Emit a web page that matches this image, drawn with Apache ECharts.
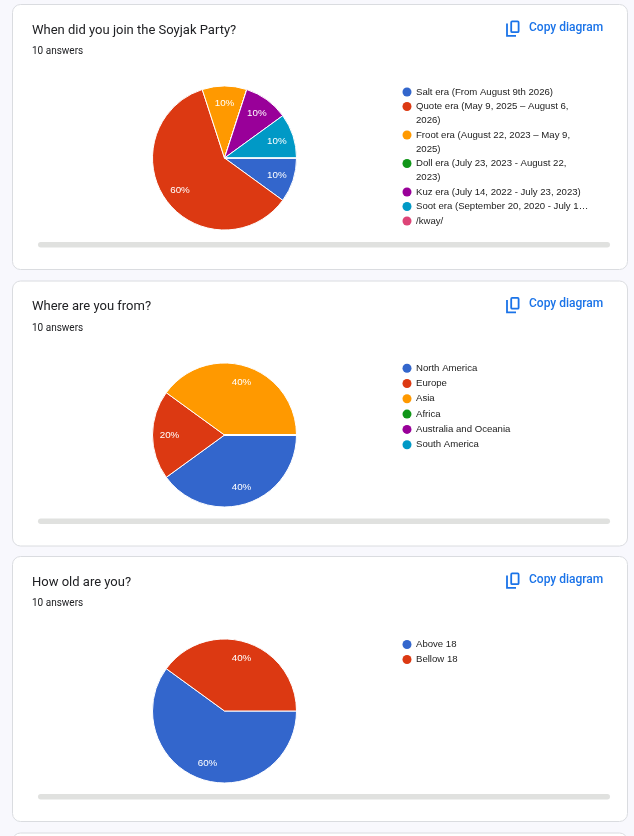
<!DOCTYPE html>
<html>
<head>
<meta charset="utf-8">
<script src="https://cdn.jsdelivr.net/npm/echarts@6/dist/echarts.min.js"></script>
<style>
html,body{margin:0;padding:0;background:#f8f8fd;}
#c{width:634px;height:836px;}
</style>
</head>
<body>
<div id="c"></div>
<script>
// ---------- data ----------
const questions = ['When did you join the Soyjak Party?', 'Where are you from?', 'How old are you?'];
const answerLabels = ['10 answers', '10 answers', '10 answers'];
const copyLabel = 'Copy diagram';

const joinCategories = [
  'Salt era (From August 9th 2026)',
  'Quote era (May 9, 2025 – August 6, 2026)',
  'Froot era (August 22, 2023 – May 9, 2025)',
  'Doll era (July 23, 2023 - August 22, 2023)',
  'Kuz era (July 14, 2022 - July 23, 2023)',
  'Soot era (September 20, 2020 - July 14, 2022)',
  '/kway/'
];
const joinValues = [1, 6, 1, 0, 1, 1, 0];
const joinLegendMaxLines = [2, 2, 2, 2, 2, 1, 2];

const fromCategories = ['North America', 'Europe', 'Asia', 'Africa', 'Australia and Oceania', 'South America'];
const fromValues = [4, 2, 4, 0, 0, 0];

const ageCategories = ['Above 18', 'Bellow 18'];
const ageValues = [6, 4];

const palette = ['#3366cc', '#dc3912', '#ff9900', '#109618', '#990099', '#0099c6', '#dd4477'];

// ---------- layout ----------
const cardTops = [4, 280.5, 556];
const LEG_FONT = 9.6;
const LEG_LINE = 14;
const LEG_MAXW = 174;

const measureCtx = document.createElement('canvas').getContext('2d');
measureCtx.font = LEG_FONT + 'px "Liberation Sans"';
function mw(s) { return measureCtx.measureText(s).width; }
function wrapText(text, maxW, maxLines) {
  const words = text.split(' ');
  const lines = [];
  let cur = '';
  for (const w of words) {
    const t = cur ? cur + ' ' + w : w;
    if (!cur || mw(t) <= maxW) cur = t;
    else { lines.push(cur); cur = w; }
  }
  if (cur) lines.push(cur);
  if (lines.length > maxLines) {
    const keep = lines.slice(0, maxLines - 1);
    let rest = lines.slice(maxLines - 1).join(' ');
    while (rest.length > 1 && mw(rest + '…') > maxW) rest = rest.slice(0, -1);
    keep.push(rest + '…');
    return keep;
  }
  return lines;
}

function buildLegend(cats, maxLines, top, gap) {
  const rich = { t: {}, g: { width: 4.5 }, s: { width: 9 } };
  cats.forEach((n, i) => {
    rich['d' + i] = { width: 9, height: 9, borderRadius: 4.5, backgroundColor: palette[i] };
  });
  const wrapped = {};
  cats.forEach((n, i) => {
    const lines = wrapText(n, LEG_MAXW, maxLines ? maxLines[i] : 2);
    wrapped[n] = lines.map((l, k) => (k === 0 ? '{d' + i + '|}' : '{s|}') + '{g|}{t|' + l + '}').join('\n');
  });
  return {
    orient: 'vertical', left: 397.5, top: top, padding: 0,
    itemWidth: 0, itemHeight: 0, itemGap: gap, icon: 'none',
    selectedMode: false,
    data: cats.map(n => ({ name: n })),
    formatter: n => wrapped[n],
    textStyle: {
      fontFamily: '"Liberation Sans", Arial, sans-serif', fontSize: LEG_FONT, color: '#222222',
      lineHeight: LEG_LINE, rich: rich
    }
  };
}

function buildPie(cats, vals, cy) {
  const data = cats.map((n, i) => ({ name: n, value: vals[i], itemStyle: { color: palette[i] } }));
  const labelData = cats.map((n, i) => ({ name: n, value: vals[i] }));
  return [
    {
      type: 'pie', center: [224.5, cy], radius: [0, 72], startAngle: 0, clockwise: true,
      data: data, label: { show: false }, labelLine: { show: false },
      itemStyle: { borderColor: '#ffffff', borderWidth: 1 },
      emphasis: { disabled: true }, animation: false, z: 2
    },
    {
      type: 'pie', center: [224.5, cy], radius: [32, 72], startAngle: 0, clockwise: true,
      data: labelData, silent: true, animation: false, z: 3,
      itemStyle: { color: 'rgba(0,0,0,0)', borderWidth: 0 },
      labelLine: { show: false }, emphasis: { disabled: true },
      label: {
        show: true, position: 'inside', color: '#ffffff', fontSize: 9.8,
        fontFamily: '"Liberation Sans", Arial, sans-serif', textBorderWidth: 0,
        formatter: p => (p.value ? Math.round(p.percent) + '%' : '')
      }
    }
  ];
}

// ---------- graphics (cards) ----------
const graphics = [];
function addCard(t, h) {
  graphics.push({ type: 'rect', z: 0, shape: { x: 12.5, y: t + 0.5, width: 615, height: h, r: 8 },
    style: { fill: '#ffffff', stroke: '#dadce0', lineWidth: 1 } });
}
cardTops.forEach((t, i) => {
  addCard(t, 265);
  graphics.push({ type: 'text', z: 1, x: 32, y: t + 26.3,
    style: { text: questions[i], fontSize: 13, fontFamily: 'Roboto', fill: '#202124', verticalAlign: 'middle' } });
  graphics.push({ type: 'text', z: 1, x: 32, y: t + 47.8,
    style: { text: answerLabels[i], fontSize: 10, fontFamily: 'Roboto', fill: '#202124', verticalAlign: 'middle' } });
  graphics.push({ type: 'text', z: 1, x: 529, y: t + 23.8,
    style: { text: copyLabel, fontSize: 12, fontWeight: 500, fontFamily: 'Roboto', fill: '#1a73e8', verticalAlign: 'middle' } });
  graphics.push({ type: 'rect', z: 1, shape: { x: 511.2, y: t + 17.4, width: 7.4, height: 10.8, r: 1 },
    style: { fill: 'none', stroke: '#1a73e8', lineWidth: 1.8 } });
  graphics.push({ type: 'polyline', z: 1, shape: { points: [[507, t + 19.4], [507, t + 31.8], [516, t + 31.8]] },
    style: { fill: 'none', stroke: '#1a73e8', lineWidth: 1.8 } });
  graphics.push({ type: 'rect', z: 1, shape: { x: 38, y: t + 238, width: 572, height: 5.5, r: 2.75 },
    style: { fill: '#e0e1df' } });
});
addCard(832.5, 100);

const chart = echarts.init(document.getElementById('c'), null, { renderer: 'canvas' });
chart.setOption({
  animation: false,
  color: palette,
  graphic: { elements: graphics },
  legend: [
    buildLegend(joinCategories, joinLegendMaxLines, cardTops[0] + 81, 0.5),
    buildLegend(fromCategories, null, cardTops[1] + 80.7, 1.3),
    buildLegend(ageCategories, null, cardTops[2] + 81.5, 1)
  ],
  series: [
    ...buildPie(joinCategories, joinValues, cardTops[0] + 154),
    ...buildPie(fromCategories, fromValues, cardTops[1] + 154.5),
    ...buildPie(ageCategories, ageValues, cardTops[2] + 155)
  ]
});
</script>
</body>
</html>
